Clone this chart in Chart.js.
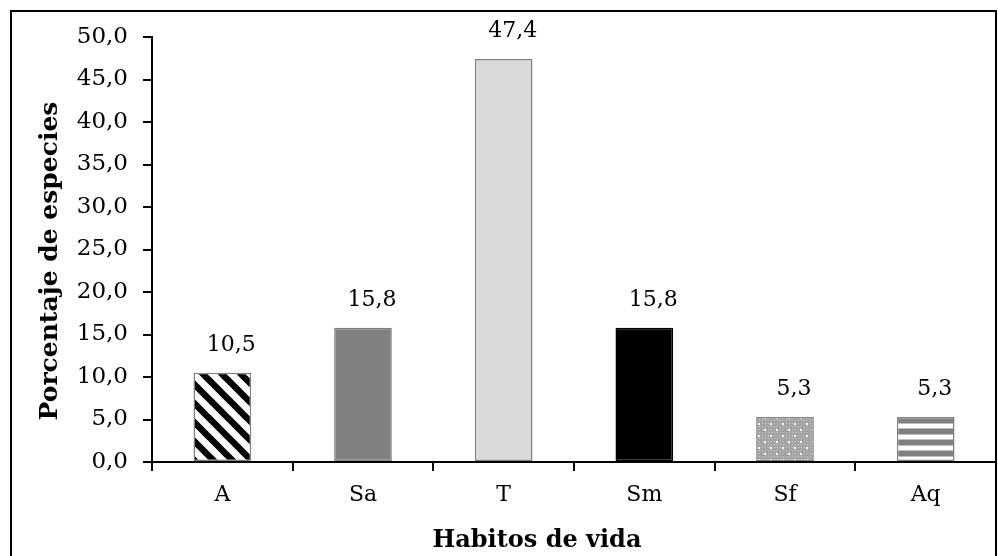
<!DOCTYPE html>
<html>
<head>
<meta charset="utf-8">
<script src="https://cdn.jsdelivr.net/npm/chart.js@4.4.0/dist/chart.umd.min.js"></script>
<style>
  html, body { margin: 0; padding: 0; background: #fff; }
  #wrap { position: relative; width: 998px; height: 556px; overflow: hidden; }
  #frame { position: absolute; left: 10px; top: 10px; width: 983px; height: 560px; border: 2px solid #000; }
  canvas { position: absolute; left: 0; top: 0; }
</style>
</head>
<body>
<div id="wrap">
  <div id="frame"></div>
  <canvas id="myChart" width="998" height="556"></canvas>
</div>
<script>
var categories = ["A", "Sa", "T", "Sm", "Sf", "Aq"];
var percentages = [10.5, 15.8, 47.4, 15.8, 5.3, 5.3];
var yTicks = [0, 5, 10, 15, 20, 25, 30, 35, 40, 45, 50];
var xTitle = "Habitos de vida";
var yTitle = "Porcentaje de especies";

function fmt(v) {
  return v.toFixed(1).replace(".", ",");
}

// patrones de relleno
function diagonalPattern() {
  var s = 19;
  var c = document.createElement("canvas");
  c.width = s; c.height = s;
  var x = c.getContext("2d");
  x.fillStyle = "#fff";
  x.fillRect(0, 0, s, s);
  x.strokeStyle = "#000";
  x.lineWidth = 6.5;
  for (var k = -2; k <= 2; k++) {
    x.beginPath();
    x.moveTo(k * s - s, -s);
    x.lineTo(k * s + 2 * s, 2 * s);
    x.stroke();
  }
  return x.createPattern(c, "repeat");
}

function dotPattern() {
  var c = document.createElement("canvas");
  c.width = 12; c.height = 12;
  var x = c.getContext("2d");
  x.fillStyle = "#a4a4a4";
  x.fillRect(0, 0, 12, 12);
  x.fillStyle = "#c4c4c4";
  for (var i = 0; i < 12; i += 3) {
    for (var j = 0; j < 12; j += 3) {
      x.fillRect(i, j, 1, 1);
    }
  }
  x.fillStyle = "#f4f4f4";
  x.fillRect(2, 3, 2, 2);
  x.fillRect(8, 9, 2, 2);
  return x.createPattern(c, "repeat");
}

function stripePattern() {
  var c = document.createElement("canvas");
  c.width = 4; c.height = 11;
  var x = c.getContext("2d");
  x.fillStyle = "#fff";
  x.fillRect(0, 0, 4, 11);
  x.fillStyle = "#808080";
  x.fillRect(0, 0, 4, 5);
  x.fillStyle = "#bdbdbd";
  x.fillRect(0, 5, 4, 1);
  x.fillRect(0, 10, 4, 1);
  return x.createPattern(c, "repeat");
}

var fills = [diagonalPattern(), "#808080", "#d9d9d9", "#000000", dotPattern(), stripePattern()];
var borders = ["#808080", "#808080", "#808080", "#000000", "#808080", "#808080"];

var valueLabels = {
  id: "valueLabels",
  afterDatasetsDraw: function (chart) {
    var ctx = chart.ctx;
    var meta = chart.getDatasetMeta(0);
    ctx.save();
    ctx.font = "22px 'DejaVu Serif'";
    ctx.fillStyle = "#000";
    ctx.textAlign = "center";
    ctx.textBaseline = "alphabetic";
    meta.data.forEach(function (bar, i) {
      ctx.fillText(fmt(percentages[i]), bar.x + 9, bar.y - 22);
    });
    ctx.restore();
  }
};

// titulos de los ejes (desplazados como en la figura original)
var axisTitles = {
  id: "axisTitles",
  afterDraw: function (chart) {
    var ctx = chart.ctx;
    ctx.save();
    ctx.fillStyle = "#000";
    ctx.textAlign = "center";
    ctx.textBaseline = "alphabetic";
    ctx.font = "bold 24px 'DejaVu Serif'";
    ctx.fillText(xTitle, 537, 547);
    ctx.translate(57, 261);
    ctx.rotate(-Math.PI / 2);
    ctx.font = "bold 25px 'DejaVu Serif'";
    ctx.fillText(yTitle, 0, 0);
    ctx.restore();
  }
};

var ctx = document.getElementById("myChart").getContext("2d");
var myChart = new Chart(ctx, {
  type: "bar",
  data: {
    labels: categories,
    datasets: [
      {
        data: percentages,
        backgroundColor: fills,
        borderColor: borders,
        borderWidth: 1.5,
        borderSkipped: false,
        categoryPercentage: 1,
        barPercentage: 0.41
      }
    ]
  },
  plugins: [valueLabels, axisTitles],
  options: {
    responsive: false,
    animation: false,
    devicePixelRatio: 1,
    layout: { padding: { top: 37, right: 2, bottom: 0, left: 12 } },
    plugins: {
      legend: { display: false },
      tooltip: { enabled: false }
    },
    scales: {
      x: {
        afterFit: function (s) { s.height = 94; },
        grid: {
          offset: true,
          drawOnChartArea: false,
          drawTicks: true,
          tickLength: 9,
          color: "#000",
          lineWidth: 2
        },
        border: { color: "#000", width: 2 },
        ticks: {
          color: "#000",
          padding: 11,
          font: { family: "'DejaVu Serif'", size: 22 }
        }
      },
      y: {
        min: 0,
        max: 50,
        afterFit: function (s) { s.width = 140; },
        afterBuildTicks: function (s) {
          s.ticks = yTicks.map(function (v) { return { value: v }; });
        },
        grid: {
          drawOnChartArea: false,
          drawTicks: true,
          tickLength: 9,
          color: "#000",
          lineWidth: 2
        },
        border: { color: "#000", width: 2 },
        ticks: {
          color: "#000",
          padding: 15,
          font: { family: "'DejaVu Serif'", size: 23 },
          callback: function (v) { return fmt(v); }
        }
      }
    }
  }
});
</script>
</body>
</html>
